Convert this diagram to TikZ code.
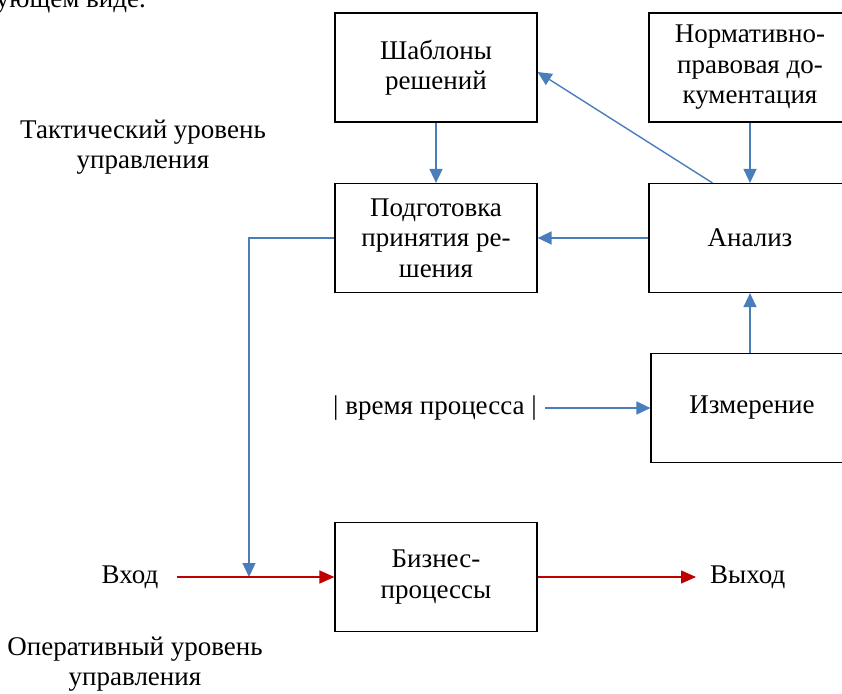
\documentclass[tikz,border=0pt]{standalone}
\usepackage{fontspec}
\setmainfont{Liberation Serif}
\usetikzlibrary{arrows.meta}
\definecolor{arrblue}{HTML}{4A7EBB}
\definecolor{arrred}{HTML}{C00000}
\tikzset{
  box/.style={draw=black, line width=1.2pt, rectangle, minimum width=202pt, minimum height=109pt, inner sep=0pt, align=center, font=\fontsize{27}{30.5}\selectfont},
  lbl/.style={inner sep=0pt, align=center, font=\fontsize{27}{30.5}\selectfont},
  barrow/.style={draw=arrblue, line width=1.4pt, -{Triangle[length=14pt,width=13pt]}},
  rarrow/.style={draw=arrred, line width=1.4pt, -{Triangle[length=15pt,width=13pt]}}
}
\begin{document}
\begin{tikzpicture}[x=1pt,y=-1pt]
\useasboundingbox (0,0) rectangle (842,693);
% partial text at the top (cut by the page edge, as in the reference)
\node[lbl, anchor=base east] (top) at (146,8) {ующем виде.};
% boxes
\node[box] (shab) at (436,67.5) {Шаблоны\\решений};
\node[box] (norm) at (750,67.5) {Нормативно-\\правовая до-\\кументация};
\node[box] (podg) at (436,238) {Подготовка\\принятия ре-\\шения};
\node[box] (anal) at (750,238) {Анализ};
\node[box] (izm) at (752,408) {Измерение};
\node[box] (biz) at (436,577) {Бизнес-\\процессы};
% labels
\node[lbl] (takt) at (143,147) {Тактический уровень\\управления};
\node[lbl] (oper) at (135,664) {Оперативный уровень\\управления};
\node[lbl] (time) at (435,408) {| время процесса |};
\node[lbl] (vhod) at (130,577) {Вход};
\node[lbl, anchor=west] (vyh) at (710,577) {Выход};
\coordinate (in) at (177,577);
\coordinate (out) at (696,577);
\coordinate (j) at (249,577);
% blue connectors
\draw[barrow] (shab.south) -- (podg.north);
\draw[barrow] (norm.south) -- (anal.north);
\draw[barrow] ([xshift=64pt]anal.north west) -- ([yshift=-4.5pt]shab.east);
\draw[barrow] (anal.west) -- (podg.east);
\draw[barrow] (izm.north -| anal.south) -- (anal.south);
\draw[barrow] ([xshift=8pt]time.east) -- (izm.west);
\draw[barrow] (podg.west) -| (j);
% red connectors
\draw[rarrow] (in) -- (biz.west);
\draw[rarrow] (biz.east) -- (out);
\end{tikzpicture}
\end{document}
